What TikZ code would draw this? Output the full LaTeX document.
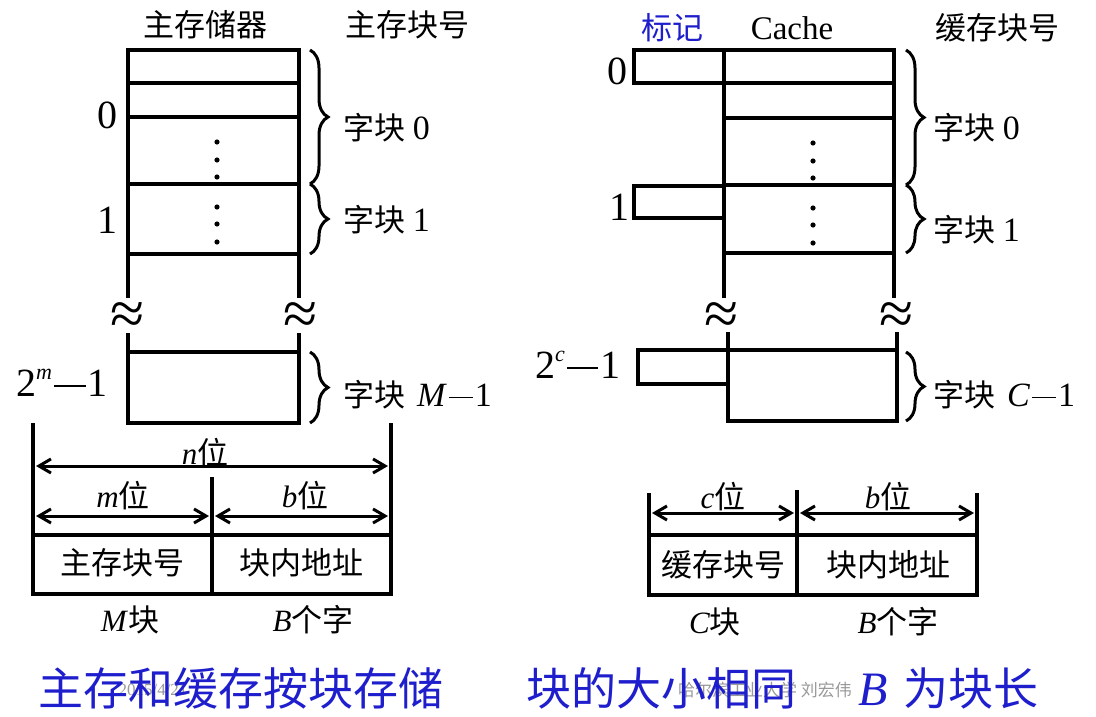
\documentclass[tikz,border=0pt]{standalone}
\usepackage{fontspec}
\setmainfont{Liberation Serif}
\newfontfamily\cjk{Noto Sans CJK SC}
\usetikzlibrary{arrows.meta,decorations.pathreplacing}
\definecolor{tblue}{RGB}{30,30,205}
\newcommand\mydash[1]{\hspace{0.06em}\rule[0.25em]{#1}{0.05em}\hspace{0.06em}}
\begin{document}
\begin{tikzpicture}[x=1pt,y=-1pt,
  thk/.style={line width=4pt},
  lbl/.style={font=\fontsize{31}{34}\selectfont, inner sep=0pt},
  rowlbl/.style={font=\fontsize{40}{42}\selectfont, inner sep=0pt},
  brc/.style={decorate, decoration={brace, amplitude=18pt}, line width=3pt},
  arr/.style={line width=3pt, {Straight Barb[length=12pt,width=14pt]}-{Straight Barb[length=12pt,width=14pt]}},
  approx/.style={font=\fontsize{62}{62}\selectfont, inner sep=0pt},
  big/.style={font=\fontsize{45}{48}\selectfont, inner sep=0pt, text=tblue},
  wm/.style={font=\fontsize{17}{18}\selectfont, inner sep=0pt, text=black!40}]
\useasboundingbox (0,0) rectangle (1096,717);

% ---------- headers ----------
\node[lbl] (h1) at (205,25) {\cjk 主存储器};
\node[lbl] (h2) at (407,25) {\cjk 主存块号};
\node[lbl, text=tblue] (h3) at (672,28) {\cjk 标记};
\node[lbl, font=\fontsize{33}{36}\selectfont] (h4) at (792,28) {Cache};
\node[lbl] (h5) at (997,28) {\cjk 缓存块号};

% ---------- main memory ----------
\draw[thk] (128,298) -- (128,50) -- (299,50) -- (299,298);
\foreach \yy in {83,117,184,254} \draw[thk] (128,\yy) -- (299,\yy);
\draw[thk] (128,333) -- (128,423) -- (299,423) -- (299,333);
\draw[thk] (128,352) -- (299,352);
\foreach \yy in {142,160,177,207,224,242} \fill (217,\yy) circle (2.6);
\node[approx] (a1) at (128,319) {≈};
\node[approx] (a2) at (301,319) {≈};

\node[rowlbl] (l0) at (107,115) {0};
\node[rowlbl] (l1) at (107,220) {1};
\node[rowlbl] (lm) at (62,383) {2\raisebox{0.42em}{\fontsize{22}{22}\selectfont\itshape m}\mydash{0.78em}1};

\draw[brc] (310,50) -- (310,184);
\draw[brc] (310,184) -- (310,254);
\draw[brc] (310,352) -- (310,423);
\node[lbl, anchor=west] (k0) at (343,128) {{\cjk 字块} {\fontsize{34}{36}\selectfont 0}};
\node[lbl, anchor=west] (k1) at (343,220) {{\cjk 字块} {\fontsize{34}{36}\selectfont 1}};
\node[lbl, anchor=west] (k2) at (343,395) {{\cjk 字块}\hspace{12pt}{\fontsize{34}{36}\selectfont\textit{M}\mydash{0.7em}1}};

% ---------- cache ----------
\draw[thk] (724,298) -- (724,50) -- (894,50) -- (894,298);
\foreach \yy in {83,118,185,253} \draw[thk] (724,\yy) -- (894,\yy);
\draw[thk] (724,50) -- (634,50) -- (634,83) -- (724,83);
\draw[thk] (724,186) -- (634,186) -- (634,218) -- (724,218);
\draw[thk] (728,332) -- (728,421) -- (897,421) -- (897,332);
\draw[thk] (728,350) -- (897,350);
\draw[thk] (728,350) -- (638,350) -- (638,384) -- (728,384);
\foreach \yy in {143,161,178,208,225,243} \fill (813,\yy) circle (2.6);
\node[approx] (a3) at (722,319) {≈};
\node[approx] (a4) at (897,319) {≈};

\node[rowlbl] (r0) at (617,71) {0};
\node[rowlbl] (r1) at (619,207) {1};
\node[rowlbl] (rc) at (578,365) {2\raisebox{0.42em}{\fontsize{22}{22}\selectfont\itshape c}\mydash{0.78em}1};

\draw[brc] (906,50) -- (906,185);
\draw[brc] (906,185) -- (906,253);
\draw[brc] (906,352) -- (906,421);
\node[lbl, anchor=west] (c0) at (933,128) {{\cjk 字块} {\fontsize{34}{36}\selectfont 0}};
\node[lbl, anchor=west] (c1) at (933,230) {{\cjk 字块} {\fontsize{34}{36}\selectfont 1}};
\node[lbl, anchor=west] (c2) at (933,395) {{\cjk 字块}\hspace{12pt}{\fontsize{34}{36}\selectfont\textit{C}\mydash{0.7em}1}};

% ---------- main memory address ----------
\draw[thk] (33,423) -- (33,535);
\draw[thk] (391,423) -- (391,535);
\draw[thk] (212,477) -- (212,594);
\draw[thk] (33,535) rectangle (391,594);
\draw[arr] (36,466) -- (388,466);
\draw[arr] (36,516) -- (209,516);
\draw[arr] (215,516) -- (388,516);
\node[lbl] (nw) at (205,453) {\textit{n}\cjk 位};
\node[lbl] (mw) at (123,496) {\textit{m}\cjk 位};
\node[lbl] (bw) at (305,496) {\textit{b}\cjk 位};
\node[lbl] (f1) at (122,563) {\cjk 主存块号};
\node[lbl] (f2) at (301,563) {\cjk 块内地址};
\node[lbl] (mk) at (130,620) {\textit{M}\cjk 块};
\node[lbl] (bz) at (313,620) {\textit{B}\cjk 个字};

% ---------- cache address ----------
\draw[thk] (649,493) -- (649,535);
\draw[thk] (977,493) -- (977,535);
\draw[thk] (797,490) -- (797,595);
\draw[thk] (649,535) rectangle (977,595);
\draw[arr] (652,513) -- (794,513);
\draw[arr] (800,513) -- (974,513);
\node[lbl] (cw) at (723,497) {\textit{c}\cjk 位};
\node[lbl] (bw2) at (888,497) {\textit{b}\cjk 位};
\node[lbl] (g1) at (723,565) {\cjk 缓存块号};
\node[lbl] (g2) at (888,565) {\cjk 块内地址};
\node[lbl] (ck) at (715,622) {\textit{C}\cjk 块};
\node[lbl] (bz2) at (898,622) {\textit{B}\cjk 个字};

% ---------- footer ----------
\node[wm] (w1) at (153,690) {2015/4/21};
\node[wm] (w2) at (765,690) {\cjk 哈尔滨工业大学 刘宏伟};
\node[big] (t1) at (241,688) {\cjk 主存和缓存按块存储};
\node[big] (t2) at (661,688) {\cjk 块的大小相同};
\node[big, anchor=west] (t3) at (858,688) {{\fontsize{48}{48}\selectfont\textit{B}}\hspace{16pt}{\cjk 为块长}};
\end{tikzpicture}
\end{document}
